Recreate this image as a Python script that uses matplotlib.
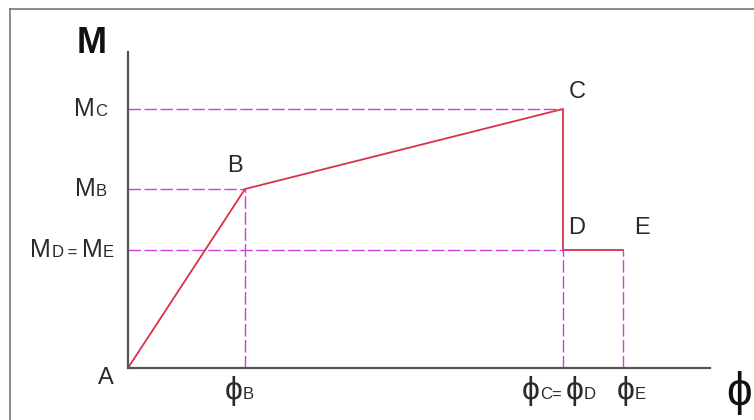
import matplotlib.pyplot as plt
from matplotlib.lines import Line2D
from matplotlib.offsetbox import TextArea, HPacker, AnnotationBbox

plt.rcParams['font.family'] = ['Liberation Sans', 'DejaVu Sans']

# points of the moment-curvature diagram (A, B, C, D, E)
point_names = ['A', 'B', 'C', 'D', 'E']
phi = [0.0, 1.17, 4.35, 4.35, 4.95]
moment = [0.0, 1.79, 2.59, 1.18, 1.18]
phi_axis_end = 5.82
m_axis_end = 3.16

RED = '#d8324a'
MAG = '#d040d8'
TXT = '#2a2a2a'
AXC = '#555555'
PHI = 23  # size of the small phi glyphs


def sub_label(ax, xy, main, small, offset, align, big=18, little=12):
    box = HPacker(children=[TextArea(main, textprops=dict(size=big, color=TXT)),
                            TextArea(small, textprops=dict(size=little, color=TXT))],
                  align='baseline', pad=0, sep=0)
    ab = AnnotationBbox(box, xy, xybox=offset, boxcoords='offset points',
                        box_alignment=align, frameon=False, pad=0)
    ax.add_artist(ab)


fig = plt.figure(figsize=(7.54, 4.20), dpi=100)
ax = fig.add_axes([0, 0, 1, 1])
ax.set_xlim(-1.28, 6.26)
ax.set_ylim(-0.52, 3.68)
ax.axis('off')

# outer frame (top and left only visible)
fig.add_artist(Line2D([10 / 754, 1], [1 - 9 / 420] * 2, color='#777777', lw=1.2))
fig.add_artist(Line2D([10 / 754] * 2, [0, 1 - 9 / 420], color='#777777', lw=1.2))

# dashed guide lines
dash = dict(color=MAG, lw=1.0, dashes=(9, 2.5))
ax.plot([0, phi[2]], [moment[2]] * 2, **dash)
ax.plot([0, phi[1]], [moment[1]] * 2, **dash)
ax.plot([0, phi[3]], [moment[3]] * 2, **dash)
ax.plot([phi[1]] * 2, [0, moment[1]], **dash)
ax.plot([phi[3]] * 2, [0, moment[3]], **dash)
ax.plot([phi[4]] * 2, [0, moment[4]], **dash)

# the curve itself
ax.plot(phi, moment, color=RED, lw=1.3, zorder=3)

# axes
ax.plot([0, 0], [0, m_axis_end], color=AXC, lw=1.6, zorder=4)
ax.plot([0, phi_axis_end], [0, 0], color=AXC, lw=1.6, zorder=4)

# axis titles
ax.text(-0.36, 3.15, 'M', fontsize=26, fontweight='bold',
        color='#111111', ha='center', va='baseline')
ax.text(phi_axis_end + 0.29, -0.25, '\u03d5', fontsize=33, color='#111111',
        ha='center', va='center')

# point letters
ax.text(phi[0] - 0.22, -0.1, point_names[0], fontsize=17, color=TXT, ha='center', va='center')
ax.text(phi[1] - 0.1, moment[1] + 0.23, point_names[1], fontsize=17, color=TXT, ha='center', va='center')
ax.text(phi[2] + 0.14, moment[2] + 0.17, point_names[2], fontsize=17, color=TXT, ha='center', va='center')
ax.text(phi[3] + 0.14, moment[3] + 0.22, point_names[3], fontsize=17, color=TXT, ha='center', va='center')
ax.text(phi[4] + 0.19, moment[4] + 0.22, point_names[4], fontsize=17, color=TXT, ha='center', va='center')

# M tick labels
sub_label(ax, (0, moment[2]), 'M', 'C', (-15, 0), (1, 0.5))
sub_label(ax, (0, moment[1]), 'M', 'B', (-15, 0), (1, 0.5))
mde = HPacker(children=[TextArea('M', textprops=dict(size=18, color=TXT)),
                        TextArea('D', textprops=dict(size=12, color=TXT)),
                        TextArea(' = ', textprops=dict(size=12, color=TXT)),
                        TextArea('M', textprops=dict(size=18, color=TXT)),
                        TextArea('E', textprops=dict(size=12, color=TXT))],
              align='baseline', pad=0, sep=0)
ax.add_artist(AnnotationBbox(mde, (0, moment[3]), xybox=(-10, 0), boxcoords='offset points',
                             box_alignment=(1, 0.5), frameon=False, pad=0))

# phi tick labels
sub_label(ax, (phi[1], 0), '\u03d5', 'B', (-4, -6), (0.5, 1), big=PHI, little=12)
pcd = HPacker(children=[TextArea('\u03d5', textprops=dict(size=PHI, color=TXT)),
                        TextArea('C', textprops=dict(size=12, color=TXT)),
                        TextArea('= ', textprops=dict(size=12, color=TXT)),
                        TextArea('\u03d5', textprops=dict(size=PHI, color=TXT)),
                        TextArea('D', textprops=dict(size=12, color=TXT))],
              align='baseline', pad=0, sep=0)
ax.add_artist(AnnotationBbox(pcd, (phi[3], 0), xybox=(-3, -6), boxcoords='offset points',
                             box_alignment=(0.5, 1), frameon=False, pad=0))
sub_label(ax, (phi[4], 0), '\u03d5', 'E', (6, -6), (0.5, 1), big=PHI, little=12)

fig.savefig('out.png', dpi=100, facecolor='white')
